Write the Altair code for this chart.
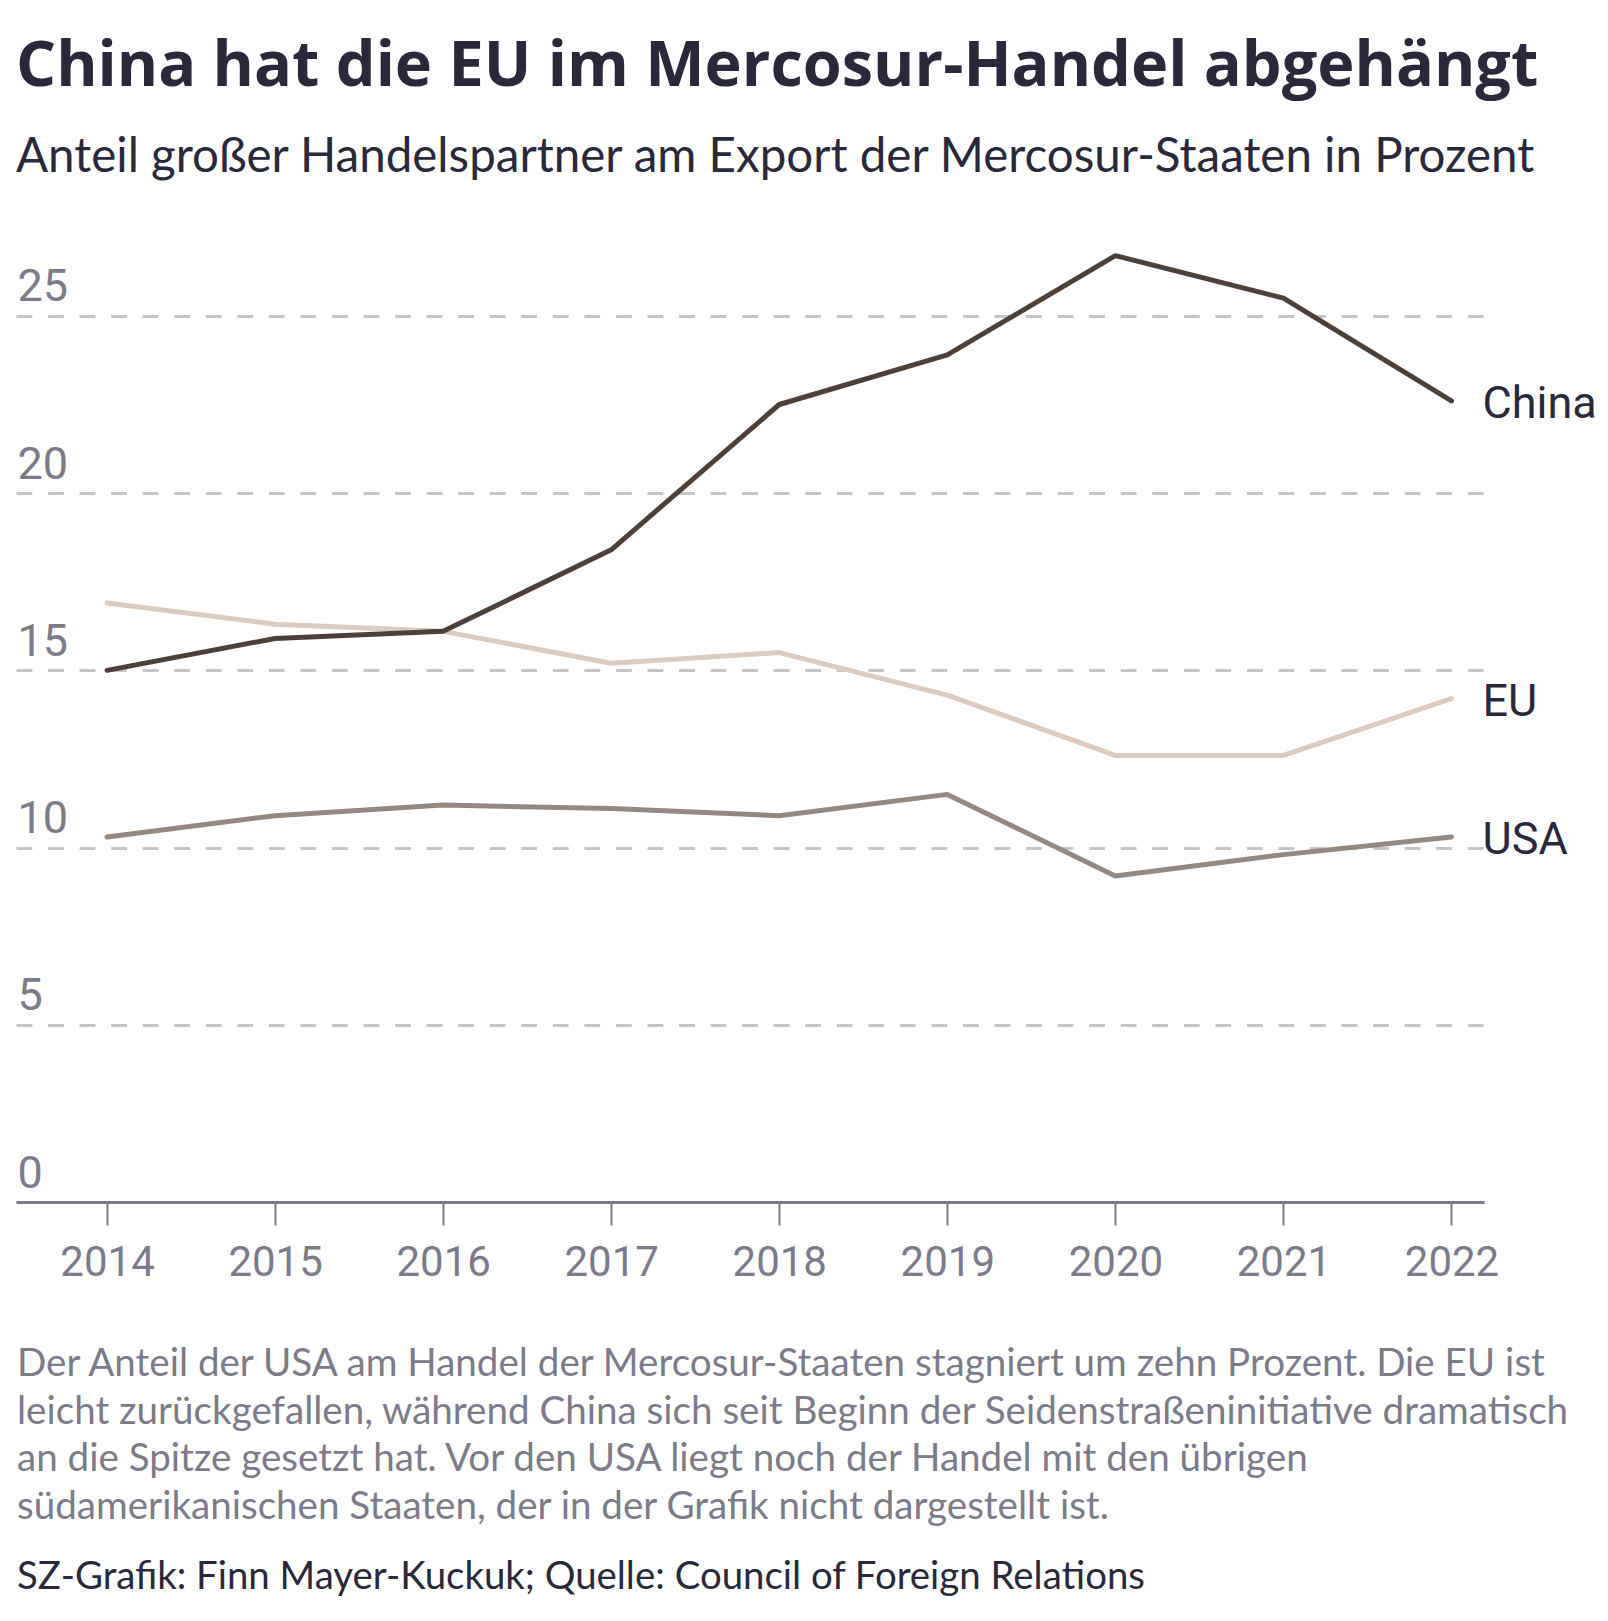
import altair as alt
import pandas as pd

# ---- data ----
years = [2014, 2015, 2016, 2017, 2018, 2019, 2020, 2021, 2022]
china = [15.0, 15.9, 16.1, 18.4, 22.5, 23.9, 26.7, 25.5, 22.6]
eu = [16.9, 16.3, 16.1, 15.2, 15.5, 14.3, 12.6, 12.6, 14.2]
usa = [10.3, 10.9, 11.2, 11.1, 10.9, 11.5, 9.2, 9.8, 10.3]
series_names = ["EU", "USA", "China"]          # drawing order (China on top)
series_values = [eu, usa, china]
series_colors = ["#dccbbe", "#958880", "#4d4038"]
y_ticks = [0, 5, 10, 15, 20, 25]

title_text = "China hat die EU im Mercosur-Handel abgehängt"
subtitle_text = "Anteil großer Handelspartner am Export der Mercosur-Staaten in Prozent"
note_lines = [
    "Der Anteil der USA am Handel der Mercosur-Staaten stagniert um zehn Prozent. Die EU ist",
    "leicht zurückgefallen, während China sich seit Beginn der Seidenstraßeninitiative dramatisch",
    "an die Spitze gesetzt hat. Vor den USA liegt noch der Handel mit den übrigen",
    "südamerikanischen Staaten, der in der Grafik nicht dargestellt ist.",
]
source_text = "SZ-Grafik: Finn Mayer-Kuckuk; Quelle: Council of Foreign Relations"

DARK = "#29293b"
GRAY = "#7c7b8a"
COND = "Roboto, Liberation Sans, sans-serif"
BODY = "Lato, Open Sans, sans-serif"
HEAD = "Open Sans, Lato, sans-serif"

rows = []
for name, vals in zip(series_names, series_values):
    for yr, v in zip(years, vals):
        rows.append({"series": name, "year": yr, "value": v})
df = pd.DataFrame(rows)
last_df = df[df["year"] == years[-1]]

x_scale = alt.Scale(domain=[2013.4583, 2022.1935], nice=False, zero=False)
y_scale = alt.Scale(domain=[0, 27], nice=False)

x_enc = alt.X(
    "year:Q", scale=x_scale,
    axis=alt.Axis(values=years, format="d", title=None, grid=False,
                  domainColor=GRAY, domainWidth=3, tickColor=GRAY, tickWidth=2,
                  tickSize=23, labelFont=COND, labelFontSize=42, labelColor=GRAY,
                  labelPadding=17),
)
y_enc = alt.Y(
    "value:Q", scale=y_scale,
    axis=alt.Axis(values=y_ticks, title=None, domain=False, ticks=False, tickSize=0,
                  labelAlign="left", labelBaseline="alphabetic", labelOffset=-15,
                  labelPadding=-1, grid=True, gridDash=[15.8, 15.75], gridWidth=3,
                  gridColor="#c4c4ca", labelFont=COND, labelFontSize=45,
                  labelColor=GRAY),
)

layers = []
for i, (name, col) in enumerate(zip(series_names, series_colors)):
    enc_x = x_enc if i == 0 else alt.X("year:Q", scale=x_scale)
    enc_y = y_enc if i == 0 else alt.Y("value:Q", scale=y_scale)
    layers.append(
        alt.Chart(df).transform_filter(alt.datum.series == name)
        .mark_line(color=col, strokeWidth=5, strokeCap="round", strokeJoin="round")
        .encode(x=enc_x, y=enc_y)
    )

labels = alt.Chart(last_df).mark_text(
    align="left", baseline="middle", dx=31, dy=3, font=COND, fontSize=45, color=DARK
).encode(x=alt.X("year:Q", scale=x_scale), y=alt.Y("value:Q", scale=y_scale), text="series:N")

note = alt.Chart(pd.DataFrame({"t": ["\n".join(note_lines)]})).mark_text(
    align="left", baseline="alphabetic", lineBreak="\n", lineHeight=47.6,
    font=BODY, fontSize=38.6, color=GRAY
).encode(x=alt.value(1), y=alt.value(1131), text="t:N")

source = alt.Chart(pd.DataFrame({"t": [source_text]})).mark_text(
    align="left", baseline="alphabetic", font=BODY, fontSize=38.4, color=DARK
).encode(x=alt.value(1), y=alt.value(1344), text="t:N")

chart = alt.layer(*layers, labels, note, source).properties(
    width=1468, height=957,
    padding={"left": 8, "top": 27, "right": 0, "bottom": 0},
    title=alt.TitleParams(
        text=title_text, subtitle=subtitle_text, anchor="start",
        font=HEAD, fontSize=63, fontWeight="bold", color=DARK,
        subtitleFont=BODY, subtitleFontSize=47.5, subtitleColor=DARK,
        subtitleFontWeight="normal", subtitlePadding=35, offset=64,
    ),
).configure_view(stroke=None)

chart.save("out.html", embed_options={"renderer": "svg", "actions": False})
